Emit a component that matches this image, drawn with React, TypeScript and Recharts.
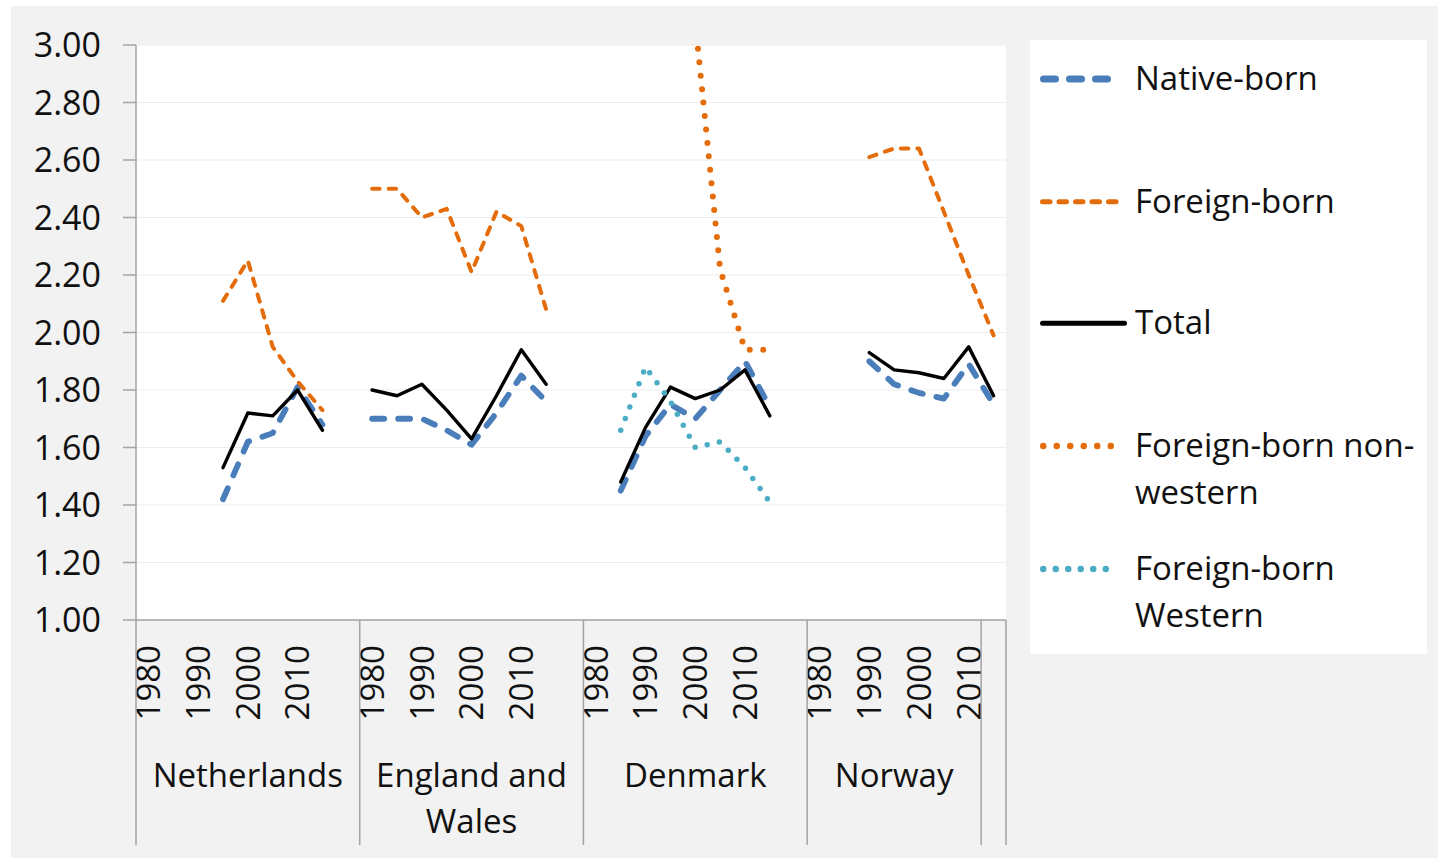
import React from 'react';
import { LineChart, Line, XAxis, YAxis, CartesianGrid, Legend } from 'recharts';

// multi-level category axis: country groups, each with 5-year categories
const COUNTRIES = ['Netherlands', 'England and\nWales', 'Denmark', 'Norway', ''];
const GROUP_TICKS = [
  ['1980', '', '1990', '', '2000', '', '2010', '', ''],
  ['1980', '', '1990', '', '2000', '', '2010', '', ''],
  ['1980', '', '1990', '', '2000', '', '2010', '', ''],
  ['1980', '', '1990', '', '2000', '', '2010'],
  [''],
];
const Y_TICKS = [1, 1.2, 1.4, 1.6, 1.8, 2, 2.2, 2.4, 2.6, 2.8, 3];

// one value per category, null where there is no observation
const nativeBorn = [
  null, null, null, 1.42, 1.62, 1.65, 1.81, 1.68, null,
  1.70, 1.70, 1.70, 1.66, 1.61, 1.72, 1.85, 1.76, null,
  null, 1.45, 1.64, 1.75, 1.70, 1.80, 1.90, 1.74, null,
  null, null, 1.90, 1.82, 1.79, 1.77, 1.89,
  1.75,
];
const foreignBorn = [
  null, null, null, 2.11, 2.25, 1.95, 1.83, 1.73, null,
  2.50, 2.50, 2.40, 2.43, 2.21, 2.42, 2.37, 2.08, null,
  null, null, null, null, null, null, null, null, null,
  null, null, 2.61, 2.64, 2.64, 2.42, 2.20,
  1.99,
];
const total = [
  null, null, null, 1.53, 1.72, 1.71, 1.80, 1.66, null,
  1.80, 1.78, 1.82, 1.73, 1.63, 1.78, 1.94, 1.82, null,
  null, 1.48, 1.67, 1.81, 1.77, 1.80, 1.87, 1.71, null,
  null, null, 1.93, 1.87, 1.86, 1.84, 1.95,
  1.78,
];
const nonWestern = [
  null, null, null, null, null, null, null, null, null,
  null, null, null, null, null, null, null, null, null,
  null, null, null, null, 3.08, 2.22, 1.94, 1.94, null,
  null, null, null, null, null, null, null,
  null,
];
const western = [
  null, null, null, null, null, null, null, null, null,
  null, null, null, null, null, null, null, null, null,
  null, 1.66, 1.88, 1.76, 1.60, 1.62, 1.53, 1.41, null,
  null, null, null, null, null, null, null,
  null,
];

const SERIES = [
  { key: 'native', name: 'Native-born', color: '#4a7ebb', width: 5.8, dash: '12 14', legendW: 7, legendLen: 76 },
  { key: 'foreign', name: 'Foreign-born', color: '#e46c0a', width: 4, dash: '7.5 9', legendW: 5, legendLen: 87 },
  { key: 'total', name: 'Total', color: '#000000', width: 3.4, dash: undefined, legendW: 5, legendLen: 87 },
  { key: 'nonWestern', name: 'Foreign-born non-\nwestern', color: '#e46c0a', width: 6, dash: '0 13.5', legendW: 6.5, legendLen: 76 },
  { key: 'western', name: 'Foreign-born\nWestern', color: '#4bacc6', width: 5.5, dash: '0 12.5', legendW: 6.5, legendLen: 76 },
];

const CATEGORIES: { key: string; group: number; pos: number; label: string }[] = [];
GROUP_TICKS.forEach((ticks, g) => {
  ticks.forEach((label, j) => {
    CATEGORIES.push({ key: `${g}-${j}`, group: g, pos: j, label });
  });
});
const CATEGORY_BY_KEY: Record<string, any> = {};
CATEGORIES.forEach((c, i) => (CATEGORY_BY_KEY[c.key] = { ...c, index: i }));

const DATA = CATEGORIES.map((c, i) => ({
  key: c.key,
  native: nativeBorn[i],
  foreign: foreignBorn[i],
  total: total[i],
  nonWestern: nonWestern[i],
  western: western[i],
}));

const W = 1427;
const H = 852;
const MARGIN = { top: 39, right: 432, bottom: 0, left: 0 };
const Y_AXIS_W = 125;
const X_AXIS_H = 238;
const BAND = (W - MARGIN.right - MARGIN.left - Y_AXIS_W) / CATEGORIES.length;
const AXIS = '#a3a3a3';
const TEXT = '#111111';
const FONT = '"Open Sans", sans-serif';

const renderCategoryTick = (props: any) => {
  const { x, y, payload } = props;
  const cat = CATEGORY_BY_KEY[payload.value];
  if (!cat) return <g />;
  const left = x - BAND / 2;
  const groupW = GROUP_TICKS[cat.group].length * BAND;
  return (
    <g>
      {cat.label && (
        <text
          transform={`translate(${x}, ${y + 25}) rotate(-90)`}
          textAnchor="end"
          dy="0.36em"
          fontSize={33}
          fill={TEXT}
          fontFamily={FONT}
        >
          {cat.label}
        </text>
      )}
      {cat.pos === 0 && (
        <line x1={left} x2={left} y1={y} y2={y + 225} stroke={AXIS} strokeWidth={1.5} />
      )}
      {cat.pos === 0 &&
        COUNTRIES[cat.group].split('\n').map((line: string, k: number) => (
          <text
            key={k}
            x={left + groupW / 2}
            y={y + 167 + k * 46}
            textAnchor="middle"
            fontSize={33}
            fill={TEXT}
            fontFamily={FONT}
          >
            {line}
          </text>
        ))}
      {cat.index === CATEGORIES.length - 1 && (
        <line x1={x + BAND / 2} x2={x + BAND / 2} y1={y} y2={y + 225} stroke={AXIS} strokeWidth={1.5} />
      )}
    </g>
  );
};

const LEGEND_ROWS = [39, 161.7, 283.3, 406, 529];

const renderLegend = () => (
  <svg width={397} height={614} style={{ display: 'block', background: '#ffffff' }}>
    {SERIES.map((s, i) => {
      const cy = LEGEND_ROWS[i];
      return (
        <g key={s.key}>
          <line
            x1={10 + s.legendW / 2}
            x2={10 + s.legendLen - s.legendW / 2}
            y1={cy}
            y2={cy}
            stroke={s.color}
            strokeWidth={s.legendW}
            strokeDasharray={s.dash}
            strokeLinecap="round"
          />
          {s.name.split('\n').map((line, k) => (
            <text key={k} x={105} y={cy + 11 + k * 46.5} fontSize={33} fill={TEXT} fontFamily={FONT}>
              {line}
            </text>
          ))}
        </g>
      );
    })}
  </svg>
);

export default function App() {
  return (
    <div style={{ position: 'absolute', left: 11, top: 6, width: W, height: H, background: '#f2f2f2' }}>
      <LineChart width={W} height={H} data={DATA} margin={MARGIN} style={{ fontFamily: FONT }}>
        <CartesianGrid vertical={false} stroke="#ededed" fill="#ffffff" fillOpacity={1} />
        <XAxis
          dataKey="key"
          scale="band"
          interval={0}
          height={X_AXIS_H}
          tickLine={false}
          tickSize={0}
          tickMargin={0}
          axisLine={{ stroke: AXIS, strokeWidth: 1.5 }}
          tick={renderCategoryTick}
        />
        <YAxis
          domain={[1, 3]}
          ticks={Y_TICKS}
          allowDataOverflow
          interval={0}
          width={Y_AXIS_W}
          tickSize={13}
          tickMargin={22}
          tickLine={{ stroke: AXIS, strokeWidth: 1.5 }}
          axisLine={{ stroke: AXIS, strokeWidth: 1.5 }}
          tick={{ fontSize: 34, fill: TEXT, fontFamily: FONT }}
          tickFormatter={(v: number) => v.toFixed(2)}
        />
        <Legend
          layout="horizontal"
          verticalAlign="middle"
          align="center"
          content={renderLegend}
          wrapperStyle={{ position: 'absolute', left: 1019, top: 34, width: 397, height: 614 }}
        />
        {SERIES.map((s) => (
          <Line
            key={s.key}
            dataKey={s.key}
            name={s.name}
            type="linear"
            stroke={s.color}
            strokeWidth={s.width}
            strokeDasharray={s.dash}
            strokeLinecap="round"
            strokeLinejoin="round"
            dot={false}
            activeDot={false}
            connectNulls={false}
            isAnimationActive={false}
          />
        ))}
      </LineChart>
    </div>
  );
}
